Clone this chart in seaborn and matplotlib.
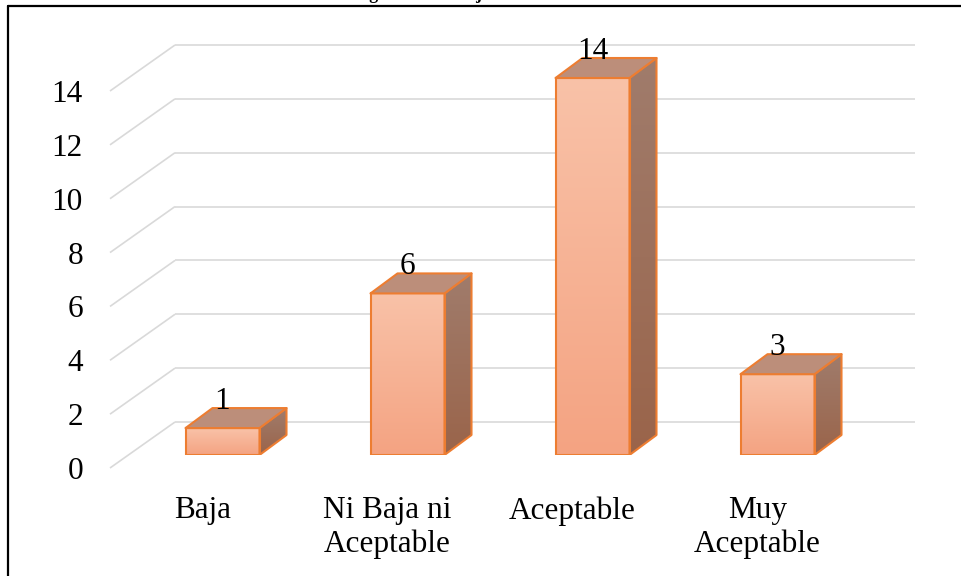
import numpy as np
import matplotlib
matplotlib.use("Agg")
import matplotlib.pyplot as plt
import seaborn as sns
from matplotlib.patches import Polygon
from matplotlib.colors import LinearSegmentedColormap

# Data
categorias = ["Baja", "Ni Baja ni\nAceptable", "Aceptable", "Muy\nAceptable"]
valores = [1, 6, 14, 3]
ticks_y = [0, 2, 4, 6, 8, 10, 12, 14]
titulo = "Figura 16 Manejo de recursos básicos"

sns.set_theme(style="white")
plt.rcParams["font.family"] = ["Liberation Serif", "DejaVu Serif"]

W, H, DPI = 961, 576, 100
FS = 22.5
fig = plt.figure(figsize=(W / DPI, H / DPI), dpi=DPI)

# Axes holds the plane of the bars' front faces (0..16 so bar tops fit inside)
Y_TOP = 16
px_x = 185.0               # pixels per category
px_y = 377.0 / 14.0        # pixels per value unit
x0_px, y0_px = 130, 455
xw_px, yh_px = 4 * px_x, Y_TOP * px_y
ax = fig.add_axes([x0_px / W, (H - y0_px) / H, xw_px / W, yh_px / H])

sns.barplot(x=list(range(len(valores))), y=valores, ax=ax, width=0.4,
            color="#F6AE8E", edgecolor="#ED7D31", linewidth=1.5,
            saturation=1, zorder=3)
ax.set_xlim(-0.5, 3.5)
ax.set_ylim(0, Y_TOP)
ax.axis("off")


def off(dx, dy):
    """Pixel offset (right, up) converted to data units."""
    return dx / px_x, dy / px_y


# Floor / wall depth offsets
fx, fy = off(-20, -13)   # front edge of the floor
bx, by = off(45, 33)     # back wall
dx, dy = off(27, 20)     # bar depth

grid_c = "#D9D9D9"
tx, _ = off(-27, 0)
for v in ticks_y:
    ax.plot([-0.5 + bx, 3.5 + bx], [v + by, v + by], color=grid_c,
            lw=1.2, zorder=1, clip_on=False, solid_capstyle="butt")
    ax.plot([-0.5 + fx, -0.5 + bx], [v + fy, v + by], color=grid_c,
            lw=1.2, zorder=1, clip_on=False, solid_capstyle="butt")
    ax.text(-0.5 + fx + tx, v + fy, str(v), ha="right", va="center_baseline",
            fontsize=FS, color="black", clip_on=False)

# Vertical gradients for the faces
front_cmap = LinearSegmentedColormap.from_list("front", ["#F4A382", "#F9C2A8"])
side_cmap = LinearSegmentedColormap.from_list("side", ["#9A644A", "#A07C6C"])
grad = np.linspace(0, 1, 256).reshape(-1, 1)

for bar, v in zip(ax.patches, valores):
    x = bar.get_x()
    w = bar.get_width()
    h = bar.get_height()
    bar.set_facecolor("none")
    # gradient fill of the front face
    im = ax.imshow(grad, cmap=front_cmap, origin="lower", aspect="auto",
                   extent=[x, x + w, 0, h], zorder=2)
    im.set_clip_path(bar)
    # right side face
    side_pts = [(x + w, 0), (x + w + dx, dy), (x + w + dx, h + dy), (x + w, h)]
    side = Polygon(side_pts, closed=True, facecolor="none", edgecolor="none",
                   zorder=2)
    ax.add_patch(side)
    ims = ax.imshow(grad, cmap=side_cmap, origin="lower", aspect="auto",
                    extent=[x + w, x + w + dx, 0, h + dy], zorder=2)
    ims.set_clip_path(side)
    ax.add_patch(Polygon(side_pts, closed=True, facecolor="none",
                         edgecolor="#ED7D31", lw=1.5, zorder=3,
                         joinstyle="round"))
    # top face
    top = Polygon([(x, h), (x + w, h), (x + w + dx, h + dy), (x + dx, h + dy)],
                  closed=True, facecolor="#BC8E7A", edgecolor="#ED7D31",
                  lw=1.5, zorder=3, joinstyle="round")
    ax.add_patch(top)
    # value label
    ax.text(x + w / 2, h + dy - 0.02, f"{v}", ha="center", va="baseline",
            fontsize=FS, color="black", zorder=5, clip_on=False)

ax.set_xlim(-0.5, 3.5)
ax.set_ylim(0, Y_TOP)

# Category labels along the front edge of the floor
ly_off = off(0, -28)[1]
for i, lab in enumerate(categorias):
    ax.text(i + fx, fy + ly_off, lab, ha="center", va="top",
            fontsize=FS, color="black", linespacing=1.22, clip_on=False)

# Frame lines and title
fig.add_artist(plt.Line2D([8 / W, 8 / W], [0, 1 - 6 / H], color="black",
                          lw=1.6, transform=fig.transFigure))
fig.add_artist(plt.Line2D([8 / W, 1], [1 - 6 / H, 1 - 6 / H], color="black",
                          lw=1.6, transform=fig.transFigure))
fig.text(497 / W, 1 + 1 / H, titulo, ha="center", va="baseline",
         fontsize=13, fontweight="bold", color="black")

fig.savefig("out.png", dpi=DPI, facecolor="white")
